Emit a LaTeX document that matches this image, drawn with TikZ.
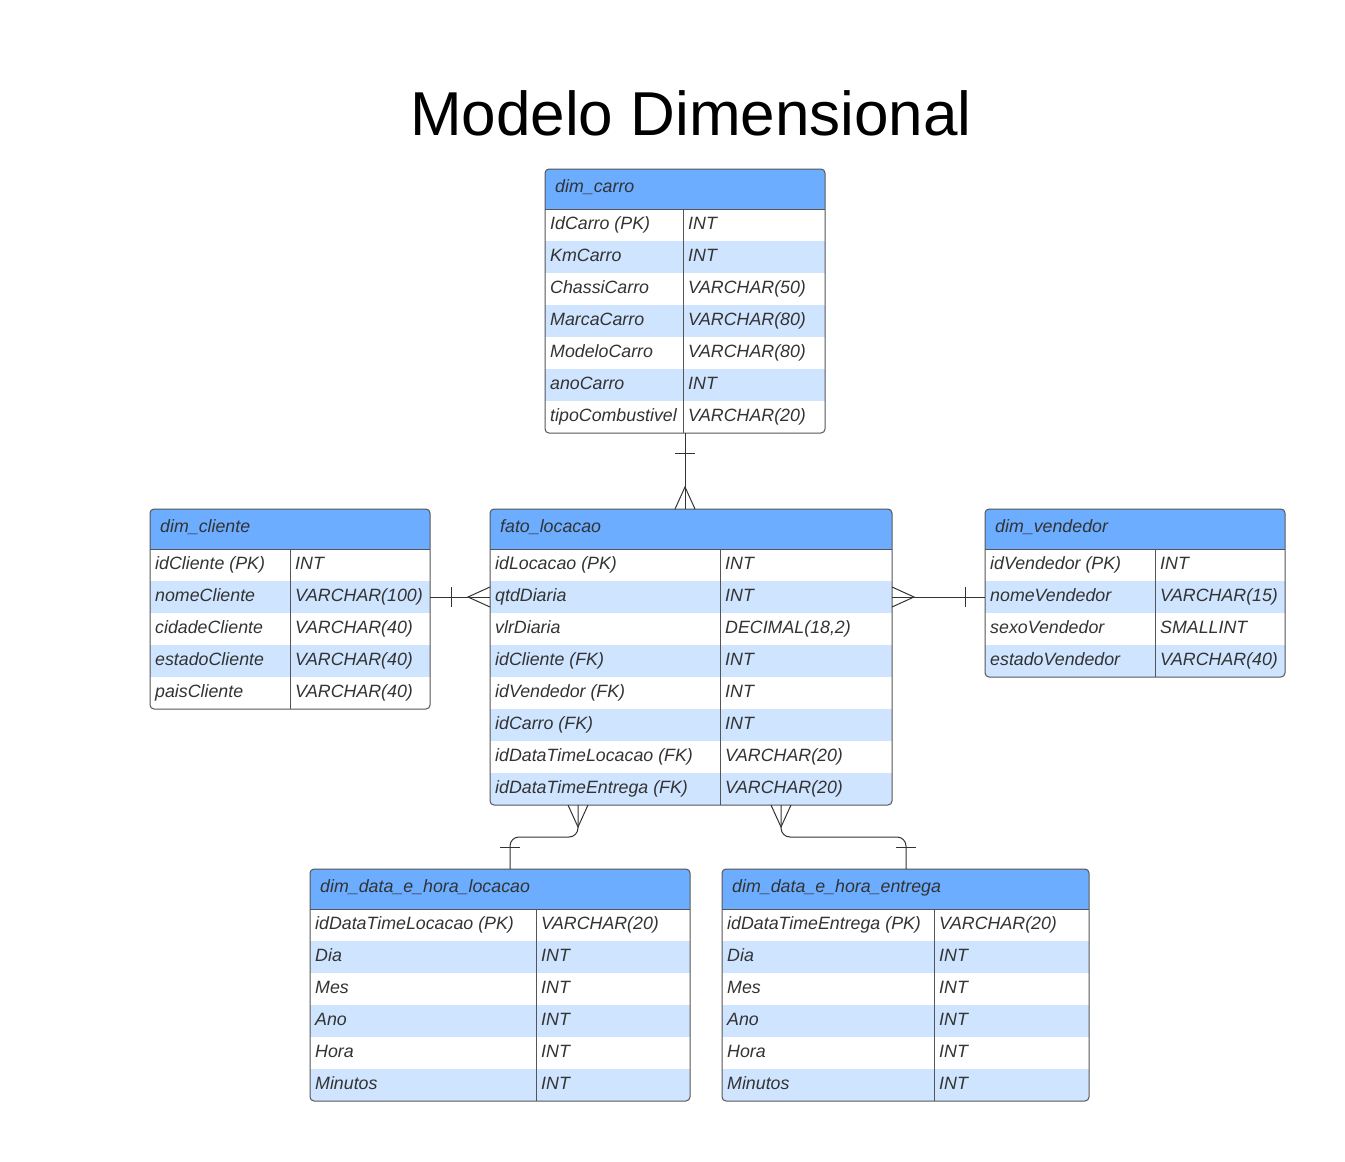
\documentclass[tikz,border=0pt]{standalone}
\usepackage{fontspec}
\setmainfont{Liberation Sans}
\usetikzlibrary{calc}
\definecolor{hdr}{HTML}{6CADFF}
\definecolor{alt}{HTML}{CFE4FE}
\definecolor{txt}{HTML}{333333}
\definecolor{edge}{HTML}{555555}
\tikzset{
  rowbox/.style={inner sep=0pt, outer sep=0pt, minimum height=32pt, draw=none},
  celltext/.style={anchor=west, inner sep=0pt, text height=13pt, text depth=4pt, text=txt, font=\fontsize{17.8}{21}\selectfont\itshape},
  hdrtext/.style={anchor=west, inner sep=0pt, text height=13pt, text depth=4pt, text=txt, font=\fontsize{17.8}{21}\selectfont\itshape},
  frame/.style={draw=edge, line width=1pt, rounded corners=4pt, inner sep=0pt, outer sep=0pt, anchor=north west},
  conn/.style={draw=txt, line width=1pt},
}
% #1 name #2 x1 #3 y1 #4 x2 #5 y2 #6 divider x #7 title #8 rows
\newcommand{\ertable}[8]{%
  \begin{scope}
    \clip[rounded corners=4pt] (#2,-#3) rectangle (#4,-#5);
    \fill[hdr] (#2,-#3) rectangle (#4,-#3-40);
    \foreach \a/\b [count=\i] in {#8}{
      \pgfmathsetmacro\rt{#3+40+(\i-1)*32}
      \ifodd\i\def\rowfill{white}\else\def\rowfill{alt}\fi
      \node[rowbox, fill=\rowfill, minimum width={#4-#2}, anchor=north west] (#1-row\i) at (#2,-\rt) {};
      \node[celltext] (#1-a\i) at ($(#1-row\i.west)+(5,0)$) {\a};
      \node[celltext] (#1-b\i) at ($(#1-row\i.west)+(#6-#2+5,0)$) {\b};
    }
  \end{scope}
  \draw[edge, line width=1pt] (#2,-#3-40) -- (#4,-#3-40);
  \draw[edge, line width=1pt] (#6,-#3-40) -- (#6,-#5);
  \node[frame, minimum width={#4-#2}, minimum height={#5-#3}] (#1) at (#2,-#3) {};
  \node[hdrtext] (#1-title) at ($(#1.north west)+(10,-19)$) {#7};
}
\begin{document}
\begin{tikzpicture}[x=1pt,y=1pt]
\useasboundingbox (0,0) rectangle (1345,-1162);
\node[text=black, font=\fontsize{62}{70}\selectfont] (title) at (691,-113) {Modelo Dimensional};

\ertable{carro}{545}{169}{825}{433}{683}{dim\_carro}{%
  IdCarro (PK)/INT, KmCarro/INT, ChassiCarro/VARCHAR(50), MarcaCarro/VARCHAR(80),
  ModeloCarro/VARCHAR(80), anoCarro/INT, tipoCombustivel/VARCHAR(20)}

\ertable{cliente}{150}{509}{430}{709}{290}{dim\_cliente}{%
  idCliente (PK)/INT, nomeCliente/VARCHAR(100), cidadeCliente/VARCHAR(40),
  estadoCliente/VARCHAR(40), paisCliente/VARCHAR(40)}

\ertable{fato}{490}{509}{892}{805}{720}{fato\_locacao}{%
  idLocacao (PK)/INT, qtdDiaria/INT, vlrDiaria/{DECIMAL(18,2)}, idCliente (FK)/INT,
  idVendedor (FK)/INT, idCarro (FK)/INT, idDataTimeLocacao (FK)/VARCHAR(20),
  idDataTimeEntrega (FK)/VARCHAR(20)}

\ertable{vendedor}{985}{509}{1285}{677}{1155}{dim\_vendedor}{%
  idVendedor (PK)/INT, nomeVendedor/VARCHAR(15), sexoVendedor/SMALLINT,
  estadoVendedor/VARCHAR(40)}

\ertable{loc}{310}{869}{690}{1101}{536}{dim\_data\_e\_hora\_locacao}{%
  idDataTimeLocacao (PK)/VARCHAR(20), Dia/INT, Mes/INT, Ano/INT, Hora/INT, Minutos/INT}

\ertable{ent}{722}{869}{1089}{1101}{934}{dim\_data\_e\_hora\_entrega}{%
  idDataTimeEntrega (PK)/VARCHAR(20), Dia/INT, Mes/INT, Ano/INT, Hora/INT, Minutos/INT}

% carro -> fato
\coordinate (ct) at (carro.south |- fato.north);
\draw[conn] (carro.south) -- (ct);
\draw[conn] ($(ct)+(-10,0)$) -- ++(10,22) -- ++(10,-22);
\draw[conn] ($(carro.south)+(-10,-20)$) -- ++(20,0);

% cliente -> fato
\draw[conn] (cliente-row2.east) -- (fato-row2.west);
\draw[conn] ($(fato-row2.west)+(0,10)$) -- ++(-22,-10) -- ++(22,-10);
\draw[conn] ($(cliente-row2.east)+(21,10)$) -- ++(0,-20);

% fato -> vendedor
\draw[conn] (fato-row2.east) -- (vendedor-row2.west);
\draw[conn] ($(fato-row2.east)+(0,10)$) -- ++(22,-10) -- ++(-22,-10);
\draw[conn] ($(vendedor-row2.west)+(-20,10)$) -- ++(0,-20);

% fato -> loc
\coordinate (fb1) at ($(fato.south west)+(88,0)$);
\coordinate (lt) at ($(loc.north west)+(200,0)$);
\draw[conn, rounded corners=9pt] (fb1) -- ($(fb1)+(0,-32)$) -- ($(lt)+(0,32)$) -- (lt);
\draw[conn] ($(fb1)+(-10,0)$) -- ++(10,-22) -- ++(10,22);
\draw[conn] ($(lt)+(-10,22)$) -- ++(20,0);

% fato -> ent
\coordinate (fb2) at ($(fato.south west)+(291,0)$);
\coordinate (et) at ($(ent.north west)+(184,0)$);
\draw[conn, rounded corners=9pt] (fb2) -- ($(fb2)+(0,-32)$) -- ($(et)+(0,32)$) -- (et);
\draw[conn] ($(fb2)+(-10,0)$) -- ++(10,-22) -- ++(10,22);
\draw[conn] ($(et)+(-10,22)$) -- ++(20,0);
\end{tikzpicture}
\end{document}
